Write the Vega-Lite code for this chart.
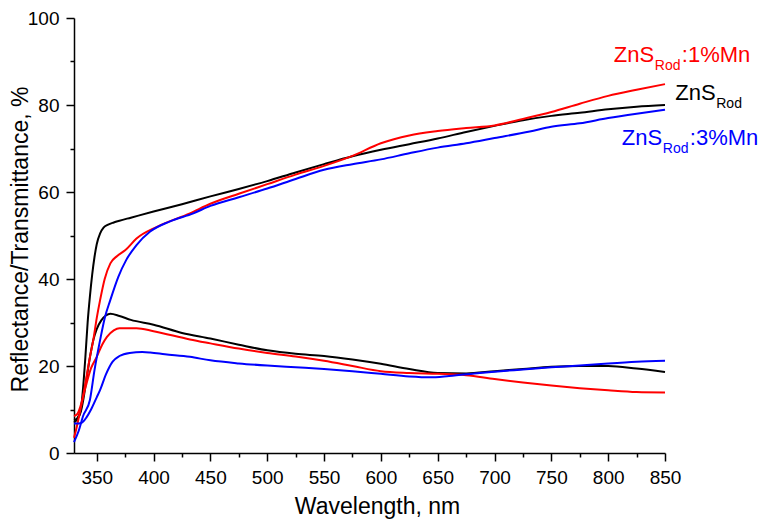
{
  "$schema": "https://vega.github.io/schema/vega-lite/v6.json",
  "width": 591,
  "height": 435,
  "autosize": {"type": "none"},
  "padding": {"left": 74, "top": 18, "right": 98, "bottom": 72},
  "background": "white",
  "config": {
    "view": {"stroke": null},
    "font": "Liberation Sans",
    "axis": {
      "grid": false,
      "domainColor": "black",
      "domainWidth": 1.5,
      "tickColor": "black",
      "tickWidth": 1.5,
      "tickSize": 8,
      "labelFont": "Liberation Sans",
      "labelFontSize": 19,
      "labelColor": "black",
      "labelPadding": 7,
      "labelFlush": false,
      "labelOverlap": false,
      "labelBound": false,
      "titleFont": "Liberation Sans",
      "titleFontSize": 23,
      "titleFontWeight": "normal",
      "titleColor": "black"
    }
  },
  "datasets": {
    "curves": [
      {"sample": "ZnS", "kind": "R", "wl": 330, "v": 7.5},
      {"sample": "ZnS", "kind": "R", "wl": 333, "v": 8.0},
      {"sample": "ZnS", "kind": "R", "wl": 336, "v": 10},
      {"sample": "ZnS", "kind": "R", "wl": 338, "v": 15},
      {"sample": "ZnS", "kind": "R", "wl": 340, "v": 22},
      {"sample": "ZnS", "kind": "R", "wl": 342, "v": 30},
      {"sample": "ZnS", "kind": "R", "wl": 344, "v": 36},
      {"sample": "ZnS", "kind": "R", "wl": 346, "v": 41},
      {"sample": "ZnS", "kind": "R", "wl": 348, "v": 45},
      {"sample": "ZnS", "kind": "R", "wl": 350, "v": 48},
      {"sample": "ZnS", "kind": "R", "wl": 353, "v": 50.5},
      {"sample": "ZnS", "kind": "R", "wl": 356, "v": 51.8},
      {"sample": "ZnS", "kind": "R", "wl": 360, "v": 52.5},
      {"sample": "ZnS", "kind": "R", "wl": 365, "v": 53.0},
      {"sample": "ZnS", "kind": "R", "wl": 370, "v": 53.4},
      {"sample": "ZnS", "kind": "R", "wl": 380, "v": 54.1},
      {"sample": "ZnS", "kind": "R", "wl": 400, "v": 55.5},
      {"sample": "ZnS", "kind": "R", "wl": 425, "v": 57.2},
      {"sample": "ZnS", "kind": "R", "wl": 450, "v": 59.0},
      {"sample": "ZnS", "kind": "R", "wl": 475, "v": 60.7},
      {"sample": "ZnS", "kind": "R", "wl": 500, "v": 62.5},
      {"sample": "ZnS", "kind": "R", "wl": 525, "v": 64.5},
      {"sample": "ZnS", "kind": "R", "wl": 550, "v": 66.4},
      {"sample": "ZnS", "kind": "R", "wl": 575, "v": 68.2},
      {"sample": "ZnS", "kind": "R", "wl": 600, "v": 69.7},
      {"sample": "ZnS", "kind": "R", "wl": 625, "v": 71.0},
      {"sample": "ZnS", "kind": "R", "wl": 650, "v": 72.3},
      {"sample": "ZnS", "kind": "R", "wl": 675, "v": 73.8},
      {"sample": "ZnS", "kind": "R", "wl": 700, "v": 75.2},
      {"sample": "ZnS", "kind": "R", "wl": 725, "v": 76.5},
      {"sample": "ZnS", "kind": "R", "wl": 750, "v": 77.5},
      {"sample": "ZnS", "kind": "R", "wl": 775, "v": 78.2},
      {"sample": "ZnS", "kind": "R", "wl": 800, "v": 79.0},
      {"sample": "ZnS", "kind": "R", "wl": 825, "v": 79.6},
      {"sample": "ZnS", "kind": "R", "wl": 850, "v": 80.0},

      {"sample": "ZnS", "kind": "T", "wl": 330, "v": 7.0},
      {"sample": "ZnS", "kind": "T", "wl": 333, "v": 7.8},
      {"sample": "ZnS", "kind": "T", "wl": 336, "v": 9.5},
      {"sample": "ZnS", "kind": "T", "wl": 338, "v": 12},
      {"sample": "ZnS", "kind": "T", "wl": 341, "v": 17},
      {"sample": "ZnS", "kind": "T", "wl": 344, "v": 22},
      {"sample": "ZnS", "kind": "T", "wl": 347, "v": 26},
      {"sample": "ZnS", "kind": "T", "wl": 350, "v": 28.5},
      {"sample": "ZnS", "kind": "T", "wl": 354, "v": 30.5},
      {"sample": "ZnS", "kind": "T", "wl": 358, "v": 31.6},
      {"sample": "ZnS", "kind": "T", "wl": 362, "v": 32.0},
      {"sample": "ZnS", "kind": "T", "wl": 370, "v": 31.5},
      {"sample": "ZnS", "kind": "T", "wl": 380, "v": 30.6},
      {"sample": "ZnS", "kind": "T", "wl": 400, "v": 29.5},
      {"sample": "ZnS", "kind": "T", "wl": 425, "v": 27.6},
      {"sample": "ZnS", "kind": "T", "wl": 450, "v": 26.3},
      {"sample": "ZnS", "kind": "T", "wl": 475, "v": 24.9},
      {"sample": "ZnS", "kind": "T", "wl": 500, "v": 23.6},
      {"sample": "ZnS", "kind": "T", "wl": 525, "v": 22.8},
      {"sample": "ZnS", "kind": "T", "wl": 550, "v": 22.3},
      {"sample": "ZnS", "kind": "T", "wl": 575, "v": 21.5},
      {"sample": "ZnS", "kind": "T", "wl": 600, "v": 20.5},
      {"sample": "ZnS", "kind": "T", "wl": 625, "v": 19.3},
      {"sample": "ZnS", "kind": "T", "wl": 650, "v": 18.4},
      {"sample": "ZnS", "kind": "T", "wl": 675, "v": 18.3},
      {"sample": "ZnS", "kind": "T", "wl": 700, "v": 18.8},
      {"sample": "ZnS", "kind": "T", "wl": 725, "v": 19.3},
      {"sample": "ZnS", "kind": "T", "wl": 750, "v": 19.8},
      {"sample": "ZnS", "kind": "T", "wl": 775, "v": 20.0},
      {"sample": "ZnS", "kind": "T", "wl": 800, "v": 20.0},
      {"sample": "ZnS", "kind": "T", "wl": 825, "v": 19.4},
      {"sample": "ZnS", "kind": "T", "wl": 850, "v": 18.6},

      {"sample": "ZnS:1%Mn", "kind": "R", "wl": 330, "v": 3.5},
      {"sample": "ZnS:1%Mn", "kind": "R", "wl": 332, "v": 5.5},
      {"sample": "ZnS:1%Mn", "kind": "R", "wl": 335, "v": 9.2},
      {"sample": "ZnS:1%Mn", "kind": "R", "wl": 338, "v": 13},
      {"sample": "ZnS:1%Mn", "kind": "R", "wl": 341, "v": 17.5},
      {"sample": "ZnS:1%Mn", "kind": "R", "wl": 344, "v": 22},
      {"sample": "ZnS:1%Mn", "kind": "R", "wl": 347, "v": 26},
      {"sample": "ZnS:1%Mn", "kind": "R", "wl": 350, "v": 31},
      {"sample": "ZnS:1%Mn", "kind": "R", "wl": 353, "v": 35.2},
      {"sample": "ZnS:1%Mn", "kind": "R", "wl": 357, "v": 40},
      {"sample": "ZnS:1%Mn", "kind": "R", "wl": 362, "v": 43.6},
      {"sample": "ZnS:1%Mn", "kind": "R", "wl": 368, "v": 45.3},
      {"sample": "ZnS:1%Mn", "kind": "R", "wl": 375, "v": 46.6},
      {"sample": "ZnS:1%Mn", "kind": "R", "wl": 385, "v": 49.3},
      {"sample": "ZnS:1%Mn", "kind": "R", "wl": 403, "v": 52.0},
      {"sample": "ZnS:1%Mn", "kind": "R", "wl": 432, "v": 55.1},
      {"sample": "ZnS:1%Mn", "kind": "R", "wl": 450, "v": 57.3},
      {"sample": "ZnS:1%Mn", "kind": "R", "wl": 475, "v": 59.6},
      {"sample": "ZnS:1%Mn", "kind": "R", "wl": 500, "v": 61.8},
      {"sample": "ZnS:1%Mn", "kind": "R", "wl": 525, "v": 64.0},
      {"sample": "ZnS:1%Mn", "kind": "R", "wl": 550, "v": 66.0},
      {"sample": "ZnS:1%Mn", "kind": "R", "wl": 575, "v": 68.3},
      {"sample": "ZnS:1%Mn", "kind": "R", "wl": 600, "v": 71.2},
      {"sample": "ZnS:1%Mn", "kind": "R", "wl": 625, "v": 73.0},
      {"sample": "ZnS:1%Mn", "kind": "R", "wl": 650, "v": 74.0},
      {"sample": "ZnS:1%Mn", "kind": "R", "wl": 675, "v": 74.7},
      {"sample": "ZnS:1%Mn", "kind": "R", "wl": 700, "v": 75.3},
      {"sample": "ZnS:1%Mn", "kind": "R", "wl": 725, "v": 76.8},
      {"sample": "ZnS:1%Mn", "kind": "R", "wl": 750, "v": 78.4},
      {"sample": "ZnS:1%Mn", "kind": "R", "wl": 775, "v": 80.3},
      {"sample": "ZnS:1%Mn", "kind": "R", "wl": 800, "v": 82.1},
      {"sample": "ZnS:1%Mn", "kind": "R", "wl": 825, "v": 83.5},
      {"sample": "ZnS:1%Mn", "kind": "R", "wl": 850, "v": 84.8},

      {"sample": "ZnS:1%Mn", "kind": "T", "wl": 330, "v": 8.5},
      {"sample": "ZnS:1%Mn", "kind": "T", "wl": 333, "v": 9.0},
      {"sample": "ZnS:1%Mn", "kind": "T", "wl": 336, "v": 11},
      {"sample": "ZnS:1%Mn", "kind": "T", "wl": 340, "v": 15},
      {"sample": "ZnS:1%Mn", "kind": "T", "wl": 345, "v": 19.5},
      {"sample": "ZnS:1%Mn", "kind": "T", "wl": 350, "v": 22.1},
      {"sample": "ZnS:1%Mn", "kind": "T", "wl": 355, "v": 25},
      {"sample": "ZnS:1%Mn", "kind": "T", "wl": 359, "v": 26.7},
      {"sample": "ZnS:1%Mn", "kind": "T", "wl": 365, "v": 28.2},
      {"sample": "ZnS:1%Mn", "kind": "T", "wl": 370, "v": 28.7},
      {"sample": "ZnS:1%Mn", "kind": "T", "wl": 385, "v": 28.7},
      {"sample": "ZnS:1%Mn", "kind": "T", "wl": 400, "v": 28.0},
      {"sample": "ZnS:1%Mn", "kind": "T", "wl": 432, "v": 26.1},
      {"sample": "ZnS:1%Mn", "kind": "T", "wl": 450, "v": 25.2},
      {"sample": "ZnS:1%Mn", "kind": "T", "wl": 475, "v": 24.0},
      {"sample": "ZnS:1%Mn", "kind": "T", "wl": 500, "v": 23.0},
      {"sample": "ZnS:1%Mn", "kind": "T", "wl": 525, "v": 22.2},
      {"sample": "ZnS:1%Mn", "kind": "T", "wl": 550, "v": 21.2},
      {"sample": "ZnS:1%Mn", "kind": "T", "wl": 575, "v": 20.0},
      {"sample": "ZnS:1%Mn", "kind": "T", "wl": 600, "v": 18.8},
      {"sample": "ZnS:1%Mn", "kind": "T", "wl": 625, "v": 18.4},
      {"sample": "ZnS:1%Mn", "kind": "T", "wl": 650, "v": 18.2},
      {"sample": "ZnS:1%Mn", "kind": "T", "wl": 675, "v": 17.9},
      {"sample": "ZnS:1%Mn", "kind": "T", "wl": 700, "v": 17.0},
      {"sample": "ZnS:1%Mn", "kind": "T", "wl": 725, "v": 16.2},
      {"sample": "ZnS:1%Mn", "kind": "T", "wl": 750, "v": 15.5},
      {"sample": "ZnS:1%Mn", "kind": "T", "wl": 775, "v": 14.9},
      {"sample": "ZnS:1%Mn", "kind": "T", "wl": 800, "v": 14.4},
      {"sample": "ZnS:1%Mn", "kind": "T", "wl": 825, "v": 14.0},
      {"sample": "ZnS:1%Mn", "kind": "T", "wl": 850, "v": 13.9},

      {"sample": "ZnS:3%Mn", "kind": "R", "wl": 330, "v": 2.5},
      {"sample": "ZnS:3%Mn", "kind": "R", "wl": 334, "v": 5},
      {"sample": "ZnS:3%Mn", "kind": "R", "wl": 338, "v": 8.5},
      {"sample": "ZnS:3%Mn", "kind": "R", "wl": 344, "v": 12.2},
      {"sample": "ZnS:3%Mn", "kind": "R", "wl": 348, "v": 19},
      {"sample": "ZnS:3%Mn", "kind": "R", "wl": 353, "v": 26},
      {"sample": "ZnS:3%Mn", "kind": "R", "wl": 357, "v": 31},
      {"sample": "ZnS:3%Mn", "kind": "R", "wl": 362, "v": 35.2},
      {"sample": "ZnS:3%Mn", "kind": "R", "wl": 369, "v": 40.5},
      {"sample": "ZnS:3%Mn", "kind": "R", "wl": 376, "v": 44.4},
      {"sample": "ZnS:3%Mn", "kind": "R", "wl": 385, "v": 47.8},
      {"sample": "ZnS:3%Mn", "kind": "R", "wl": 397, "v": 50.9},
      {"sample": "ZnS:3%Mn", "kind": "R", "wl": 414, "v": 53.2},
      {"sample": "ZnS:3%Mn", "kind": "R", "wl": 435, "v": 55.1},
      {"sample": "ZnS:3%Mn", "kind": "R", "wl": 450, "v": 56.8},
      {"sample": "ZnS:3%Mn", "kind": "R", "wl": 475, "v": 58.8},
      {"sample": "ZnS:3%Mn", "kind": "R", "wl": 500, "v": 60.8},
      {"sample": "ZnS:3%Mn", "kind": "R", "wl": 525, "v": 63.0},
      {"sample": "ZnS:3%Mn", "kind": "R", "wl": 550, "v": 65.1},
      {"sample": "ZnS:3%Mn", "kind": "R", "wl": 575, "v": 66.4},
      {"sample": "ZnS:3%Mn", "kind": "R", "wl": 600, "v": 67.5},
      {"sample": "ZnS:3%Mn", "kind": "R", "wl": 625, "v": 68.9},
      {"sample": "ZnS:3%Mn", "kind": "R", "wl": 650, "v": 70.2},
      {"sample": "ZnS:3%Mn", "kind": "R", "wl": 675, "v": 71.2},
      {"sample": "ZnS:3%Mn", "kind": "R", "wl": 700, "v": 72.4},
      {"sample": "ZnS:3%Mn", "kind": "R", "wl": 731, "v": 73.9},
      {"sample": "ZnS:3%Mn", "kind": "R", "wl": 750, "v": 75.0},
      {"sample": "ZnS:3%Mn", "kind": "R", "wl": 775, "v": 75.8},
      {"sample": "ZnS:3%Mn", "kind": "R", "wl": 800, "v": 77.0},
      {"sample": "ZnS:3%Mn", "kind": "R", "wl": 825, "v": 78.0},
      {"sample": "ZnS:3%Mn", "kind": "R", "wl": 850, "v": 78.9},

      {"sample": "ZnS:3%Mn", "kind": "T", "wl": 330, "v": 6.8},
      {"sample": "ZnS:3%Mn", "kind": "T", "wl": 334, "v": 6.8},
      {"sample": "ZnS:3%Mn", "kind": "T", "wl": 337, "v": 7.0},
      {"sample": "ZnS:3%Mn", "kind": "T", "wl": 341, "v": 8.2},
      {"sample": "ZnS:3%Mn", "kind": "T", "wl": 345, "v": 10},
      {"sample": "ZnS:3%Mn", "kind": "T", "wl": 350, "v": 12.8},
      {"sample": "ZnS:3%Mn", "kind": "T", "wl": 353, "v": 14.5},
      {"sample": "ZnS:3%Mn", "kind": "T", "wl": 358, "v": 18},
      {"sample": "ZnS:3%Mn", "kind": "T", "wl": 364, "v": 21},
      {"sample": "ZnS:3%Mn", "kind": "T", "wl": 370, "v": 22.3},
      {"sample": "ZnS:3%Mn", "kind": "T", "wl": 379, "v": 23.0},
      {"sample": "ZnS:3%Mn", "kind": "T", "wl": 390, "v": 23.2},
      {"sample": "ZnS:3%Mn", "kind": "T", "wl": 397, "v": 23.1},
      {"sample": "ZnS:3%Mn", "kind": "T", "wl": 410, "v": 22.7},
      {"sample": "ZnS:3%Mn", "kind": "T", "wl": 432, "v": 22.1},
      {"sample": "ZnS:3%Mn", "kind": "T", "wl": 450, "v": 21.3},
      {"sample": "ZnS:3%Mn", "kind": "T", "wl": 475, "v": 20.6},
      {"sample": "ZnS:3%Mn", "kind": "T", "wl": 500, "v": 20.1},
      {"sample": "ZnS:3%Mn", "kind": "T", "wl": 525, "v": 19.7},
      {"sample": "ZnS:3%Mn", "kind": "T", "wl": 550, "v": 19.3},
      {"sample": "ZnS:3%Mn", "kind": "T", "wl": 575, "v": 18.8},
      {"sample": "ZnS:3%Mn", "kind": "T", "wl": 600, "v": 18.2},
      {"sample": "ZnS:3%Mn", "kind": "T", "wl": 625, "v": 17.6},
      {"sample": "ZnS:3%Mn", "kind": "T", "wl": 643, "v": 17.4},
      {"sample": "ZnS:3%Mn", "kind": "T", "wl": 660, "v": 17.7},
      {"sample": "ZnS:3%Mn", "kind": "T", "wl": 687, "v": 18.4},
      {"sample": "ZnS:3%Mn", "kind": "T", "wl": 700, "v": 18.7},
      {"sample": "ZnS:3%Mn", "kind": "T", "wl": 725, "v": 19.2},
      {"sample": "ZnS:3%Mn", "kind": "T", "wl": 750, "v": 19.7},
      {"sample": "ZnS:3%Mn", "kind": "T", "wl": 775, "v": 20.1},
      {"sample": "ZnS:3%Mn", "kind": "T", "wl": 800, "v": 20.6},
      {"sample": "ZnS:3%Mn", "kind": "T", "wl": 825, "v": 21.0},
      {"sample": "ZnS:3%Mn", "kind": "T", "wl": 850, "v": 21.2}
    ],
    "labels": [
      {"sample": "ZnS:1%Mn", "wl": 805, "v": 90.0, "suffix": ":1%Mn"},
      {"sample": "ZnS", "wl": 859, "v": 81.1, "suffix": ""},
      {"sample": "ZnS:3%Mn", "wl": 812, "v": 70.8, "suffix": ":3%Mn"}
    ]
  },
  "resolve": {"axis": {"x": "independent", "y": "independent"}},
  "layer": [
    {
      "data": {"name": "curves"},
      "mark": {"type": "line", "strokeWidth": 2, "interpolate": "monotone"},
      "encoding": {
        "x": {
          "field": "wl", "type": "quantitative",
          "scale": {"domain": [330, 850], "nice": false, "zero": false},
          "axis": {"values": [350, 400, 450, 500, 550, 600, 650, 700, 750, 800, 850], "title": "Wavelength, nm", "titlePadding": 8, "titleX": 303}
        },
        "y": {
          "field": "v", "type": "quantitative",
          "scale": {"domain": [0, 100], "nice": false},
          "axis": {"values": [0, 20, 40, 60, 80, 100], "title": "Reflectance/Transmittance, %", "titlePadding": -5, "titleY": 221}
        },
        "color": {
          "field": "sample", "type": "nominal",
          "scale": {"domain": ["ZnS", "ZnS:1%Mn", "ZnS:3%Mn"], "range": ["#000000", "#ff0000", "#0000ff"]},
          "legend": null
        },
        "detail": {"field": "kind", "type": "nominal"},
        "order": {"field": "wl", "type": "quantitative"}
      }
    },
    {
      "data": {"name": "labels"},
      "mark": {"type": "text", "text": "ZnS", "fontSize": 22, "align": "left", "baseline": "alphabetic", "font": "Liberation Sans"},
      "encoding": {
        "x": {"field": "wl", "type": "quantitative",
          "axis": {"values": [375, 425, 475, 525, 575, 625, 675, 725, 775, 825], "labels": false, "domain": false, "tickSize": 4, "title": null, "orient": "bottom"}},
        "y": {"field": "v", "type": "quantitative",
          "axis": {"values": [10, 30, 50, 70, 90], "labels": false, "domain": false, "tickSize": 4, "title": null, "orient": "left"}},
        "color": {"field": "sample", "type": "nominal", "legend": null}
      }
    },
    {
      "data": {"name": "labels"},
      "mark": {"type": "text", "text": "Rod", "fontSize": 14, "align": "left", "baseline": "alphabetic", "dx": 41, "dy": 8, "font": "Liberation Sans"},
      "encoding": {
        "x": {"field": "wl", "type": "quantitative", "axis": null},
        "y": {"field": "v", "type": "quantitative", "axis": null},
        "color": {"field": "sample", "type": "nominal", "legend": null}
      }
    },
    {
      "data": {"name": "labels"},
      "mark": {"type": "text", "fontSize": 22, "align": "left", "baseline": "alphabetic", "dx": 68, "font": "Liberation Sans"},
      "encoding": {
        "x": {"field": "wl", "type": "quantitative", "axis": null},
        "y": {"field": "v", "type": "quantitative", "axis": null},
        "text": {"field": "suffix"},
        "color": {"field": "sample", "type": "nominal", "legend": null}
      }
    }
  ]
}
